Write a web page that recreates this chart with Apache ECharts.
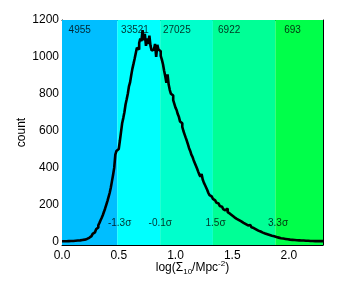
<!DOCTYPE html>
<html><head><meta charset="utf-8">
<script src="https://cdn.jsdelivr.net/npm/echarts@6/dist/echarts.min.js"></script>
<style>html,body{margin:0;padding:0;background:#fff}#c{width:343px;height:286px}</style>
</head><body><div id="c"></div>
<script>
const binWidth = 0.01;
const counts = [
  0,0,1,0,1,1,1,2,1,2,
  2,3,3,4,4,5,6,7,8,9,
  11,13,16,19,23,28,34,40,48,56,
  65,75,87,100,114,128,143,160,178,198,
  218,240,262,290,325,360,398,470,490,500,
  510,545,592,640,668,700,742,770,800,840,
  862,900,935,962,990,1020,1050,1040,1075,1100,
  1085,1145,1090,1125,1060,1100,1070,1115,1060,1035,
  1040,1045,1070,1000,1065,1040,1030,1005,985,960,
  925,895,860,905,850,820,800,790,765,745,
  725,712,690,675,650,640,620,598,580,562,
  545,525,505,490,470,458,440,425,410,395,
  378,362,350,365,335,318,305,292,278,262,
  250,243,238,230,222,215,210,205,200,192,
  188,182,175,168,162,178,158,150,145,140,
  135,130,126,122,118,115,112,108,104,100,
  97,93,90,86,84,88,80,76,72,68,
  65,62,58,55,53,50,47,45,42,40,
  38,36,34,32,30,28,27,25,23,22,
  20,18,17,16,15,14,13,12,11,10,
  9,9,8,7,7,6,6,5,5,5,
  4,4,4,3,3,3,3,2,2,2,
  2,2,1,2,1,1,1,0,1,1
];
const bandEdges = [0, 0.487, 0.865, 1.33, 1.88, 2.3];
const bandColors = ['#00BEFF', '#00FFFF', '#00FFCC', '#00FF96', '#00FF4A'];
const bandCounts = ['4955', '33521', '27025', '6922', '693'];
const bandCountX = [0.058, 0.521, 0.889, 1.375, 1.958];
const bandCountY = 1145;
const sigmaLabels = ['-1.3σ', '-0.1σ', '1.5σ', '3.3σ'];
const sigmaX = [0.508, 0.866, 1.353, 1.904];
const sigmaY = 97;
const xTickLabels = [0, 0.5, 1.0, 1.5, 2.0];
const xMinorTicks = [0,0.1,0.2,0.3,0.4,0.5,0.6,0.7,0.8,0.9,1.0,1.1,1.2,1.3,1.4,1.5,1.6,1.7,1.8,1.9,2.0,2.1,2.2];
const yTickLabels = [0, 200, 400, 600, 800, 1000, 1200];
const yMinorTicks = [0,100,200,300,400,500,600,700,800,900,1000,1100,1200];
const xRange = [0, 2.3];
const yRange = [-20, 1200];

const FONT = "'Liberation Sans', Arial, Helvetica, sans-serif";
const histData = counts.map((c, i) => [+(i * binWidth).toFixed(2), c]);
histData.push([+(counts.length * binWidth).toFixed(2), counts[counts.length - 1]]);

function xAx(pos, major, labels, nameOn) {
  const a = {
    type: 'value', position: pos, min: xRange[0], max: xRange[1],
    axisLine: { show: major, onZero: false, lineStyle: { color: '#000', width: 1 } },
    axisTick: { show: true, inside: true, length: major ? 5 : 3, customValues: major ? xTickLabels : xMinorTicks, lineStyle: { color: '#000', width: 1 } },
    axisLabel: { show: labels, customValues: xTickLabels, formatter: v => v.toFixed(1), color: '#000', fontSize: 12, fontFamily: FONT, margin: 5 },
    splitLine: { show: false }
  };
  if (nameOn) {
    a.name = 'log(Σ{sub|10}/Mpc{sup|-2})';
    a.nameLocation = 'middle';
    a.nameGap = 15;
    a.nameMoveOverlap = false;
    a.nameTextStyle = { color: '#000', fontSize: 12, fontFamily: FONT, lineHeight: 16,
      rich: { sub: { fontSize: 8, fontFamily: FONT, verticalAlign: 'bottom', lineHeight: 16 }, sup: { fontSize: 8, fontFamily: FONT, verticalAlign: 'top', lineHeight: 16 } } };
  }
  return a;
}
function yAx(pos, major, labels, nameOn) {
  const a = {
    type: 'value', position: pos, min: yRange[0], max: yRange[1],
    axisLine: { show: major, onZero: false, lineStyle: { color: '#000', width: 1 } },
    axisTick: { show: true, inside: true, length: major ? 5 : 3, customValues: major ? yTickLabels : yMinorTicks, lineStyle: { color: '#000', width: 1 } },
    axisLabel: { show: labels, customValues: yTickLabels, formatter: v => String(v), color: '#000', fontSize: 12, fontFamily: FONT, margin: 3 },
    splitLine: { show: false }
  };
  if (nameOn) {
    a.name = 'count';
    a.nameLocation = 'middle';
    a.nameGap = 34;
    a.nameMoveOverlap = false;
    a.nameTextStyle = { color: '#000', fontSize: 12, fontFamily: FONT };
  }
  return a;
}

const chart = echarts.init(document.getElementById('c'), null, { renderer: 'canvas' });
chart.setOption({
  animation: false,
  backgroundColor: '#fff',
  grid: { left: 62, right: 20, top: 20, bottom: 41, containLabel: false },
  xAxis: [xAx('bottom', true, true, true), xAx('bottom', false, false, false), xAx('top', true, false, false), xAx('top', false, false, false)],
  yAxis: [yAx('left', true, true, true), yAx('left', false, false, false), yAx('right', true, false, false), yAx('right', false, false, false)],
  series: [
    {
      type: 'line', xAxisIndex: 0, yAxisIndex: 0, data: [], z: 1, silent: true,
      markArea: {
        silent: true,
        data: bandColors.map((col, i) => [
          { xAxis: bandEdges[i], yAxis: yRange[0], itemStyle: { color: col, opacity: 1 } },
          { xAxis: bandEdges[i + 1], yAxis: yRange[1] }
        ])
      }
    },
    {
      type: 'line', xAxisIndex: 0, yAxisIndex: 0, data: histData, step: 'end',
      symbol: 'none', z: 3, silent: true,
      lineStyle: { color: '#000', width: 2.6 }
    },
    {
      type: 'scatter', xAxisIndex: 0, yAxisIndex: 0, z: 4, silent: true, symbolSize: 0,
      data: bandCounts.map((t, i) => ({ value: [bandCountX[i], bandCountY], name: t })),
      label: { show: true, position: 'inside', align: 'left', verticalAlign: 'middle', formatter: p => p.name, color: '#000', fontSize: 10, fontFamily: FONT }
    },
    {
      type: 'scatter', xAxisIndex: 0, yAxisIndex: 0, z: 4, silent: true, symbolSize: 0,
      data: sigmaLabels.map((t, i) => ({ value: [sigmaX[i], sigmaY], name: t })),
      label: { show: true, position: 'inside', align: 'center', verticalAlign: 'middle', formatter: p => p.name, color: '#000', fontSize: 10, fontFamily: FONT }
    }
  ]
});
</script>
</body></html>
